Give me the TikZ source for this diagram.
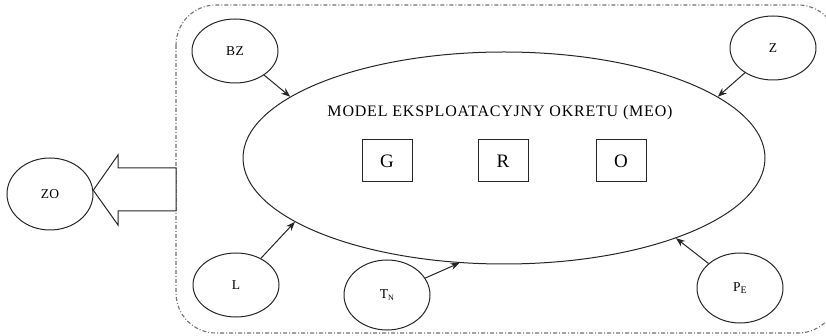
\documentclass[tikz,border=0pt]{standalone}
\usepackage{fontspec}
\setmainfont{Liberation Serif}
\usetikzlibrary{shapes.geometric,arrows.meta}

\tikzset{
  ent/.style={draw=black!85, line width=1pt, ellipse, inner sep=0pt,
              minimum width=86pt, minimum height=64pt,
              font=\fontsize{13.5}{15}\selectfont\addfontfeature{LetterSpace=3}},
  sub/.style={draw=black!85, line width=1pt, rectangle, inner sep=0pt,
              minimum width=50pt, minimum height=42pt, font=\fontsize{19}{21}\selectfont},
  feed/.style={draw=black!85, line width=1pt, -{Stealth[length=9pt,width=7pt]}},
  border/.style={draw=black!55, line width=1.1pt, rounded corners=40pt,
                 dash pattern=on 4pt off 2pt on 1pt off 2pt},
}

\begin{document}
\begin{tikzpicture}[x=1pt, y=-1pt]
  \useasboundingbox[fill=white] (0,0) rectangle (826,336);

  % system boundary
  \draw[border] (176,5) rectangle (838,333);

  % operating model of the ship
  \node[draw=black!85, line width=1pt, ellipse, inner sep=0pt,
        minimum width=522pt, minimum height=212pt] (meo) at (504,158) {};
  \node[font=\fontsize{16}{18}\selectfont\addfontfeature{LetterSpace=5}] (title) at (500,113)
        {MODEL EKSPLOATACYJNY OKRETU (MEO)};

  \node[sub] (g) at (387,161) {G};
  \node[sub] (r) at (503,161) {R};
  \node[sub] (o) at (621,161) {O};

  % surrounding elements
  \node[ent] (bz) at (235,51)  {BZ};
  \node[ent] (z)  at (773,48)  {Z};
  \node[ent] (l)  at (236,285) {L};
  \node[ent, minimum height=70pt] (tn) at (387,295)
        {T\raisebox{-0.3ex}{\fontsize{8}{9}\selectfont N}};
  \node[ent, minimum height=70pt] (pe) at (740,288)
        {P\raisebox{-0.3ex}{\fontsize{10}{11}\selectfont E}};
  \node[ent, minimum height=72pt] (zo) at (50,194) {ZO};

  % influences on the model
  \draw[feed] (bz) -- (meo.164);
  \draw[feed] (z)  -- (meo.16.4);
  \draw[feed] (l)  -- (meo.197.6);
  \draw[feed] (tn) -- (meo.247.6);
  \draw[feed] (pe) -- (meo.335.4);

  % output arrow towards ZO
  \coordinate (tip) at (zo.5);
  \draw[draw=black!85, line width=1pt, fill=white, line join=miter]
    (tip) -- (118,155) -- (118,168) -- (176,168) -- (176,211)
    -- (118,211) -- (118,225) -- cycle;
\end{tikzpicture}
\end{document}
